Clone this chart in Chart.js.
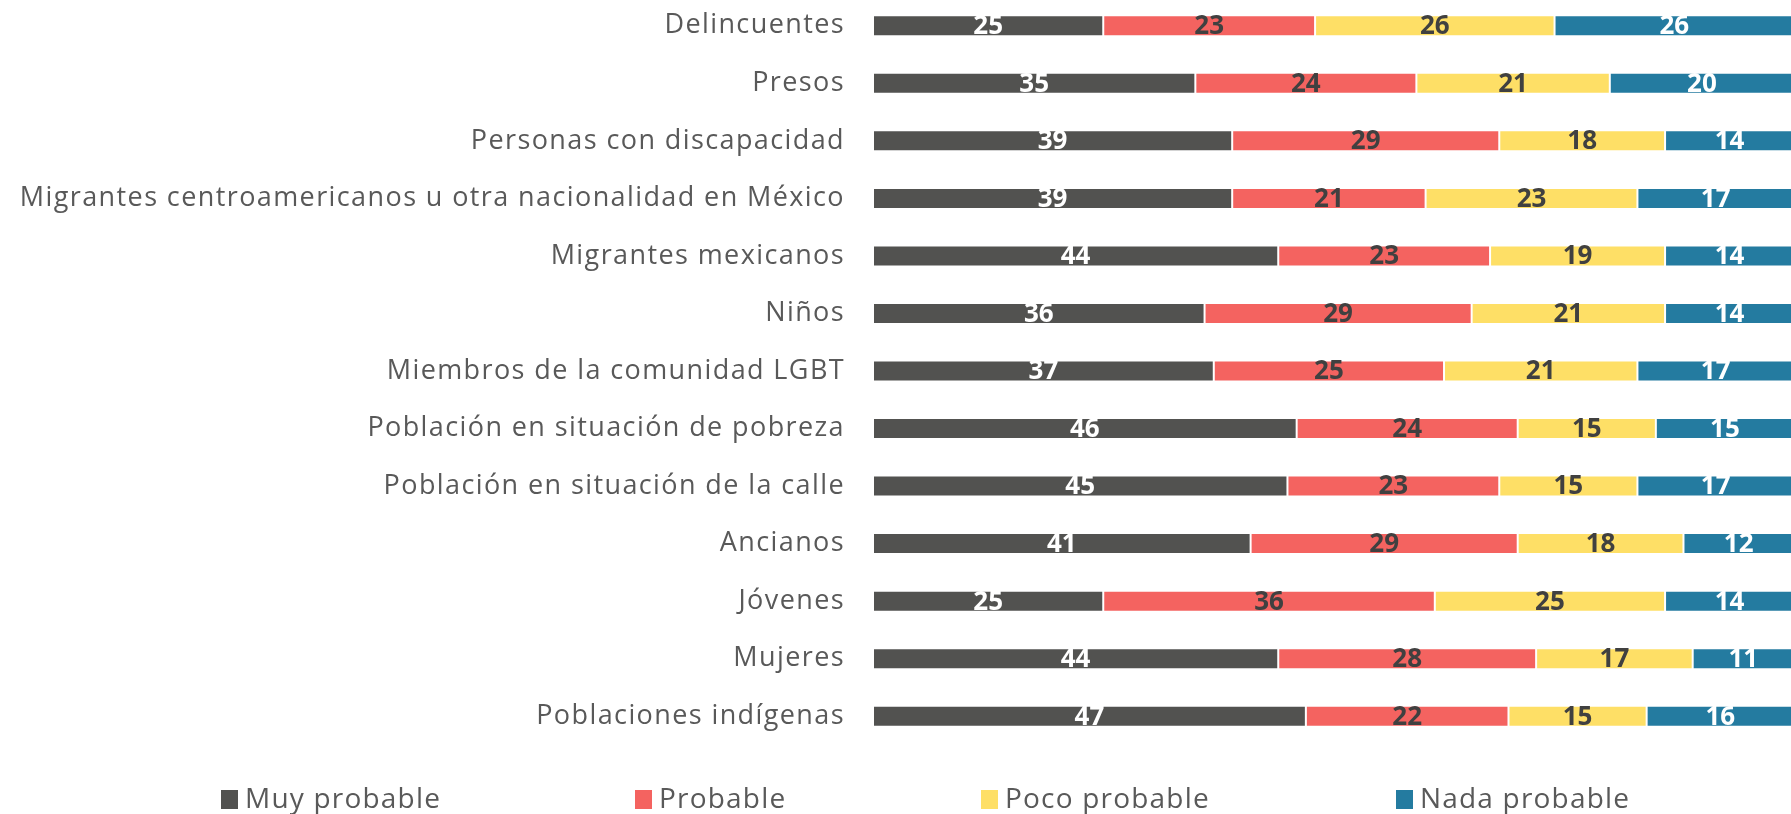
<!DOCTYPE html>
<html>
<head>
<meta charset="utf-8">
<script src="https://cdn.jsdelivr.net/npm/chart.js@4/dist/chart.umd.min.js"></script>
<style>
  html, body { margin: 0; padding: 0; background: #ffffff; overflow: hidden; width: 1791px; height: 814px; }
  #c { position: absolute; left: 0; top: -3px; }
  #legend { position: absolute; left: 0; top: 0; width: 1791px; height: 814px; pointer-events: none; }
  .item { position: absolute; top: 779px; height: 36px; display: flex; align-items: center; font-family: "Open Sans", sans-serif; font-size: 28px; letter-spacing: 1.2px; color: #595959; white-space: nowrap; }
  .box { width: 17px; height: 19px; margin-right: 7px; margin-top: 4px; }
</style>
</head>
<body>
<canvas id="c" width="1794" height="748"></canvas>
<div id="legend"></div>
<script>
const categories = [
  "Delincuentes",
  "Presos",
  "Personas con discapacidad",
  "Migrantes centroamericanos u otra nacionalidad en México",
  "Migrantes mexicanos",
  "Niños",
  "Miembros de la comunidad LGBT",
  "Población en situación de pobreza",
  "Población en situación de la calle",
  "Ancianos",
  "Jóvenes",
  "Mujeres",
  "Poblaciones indígenas"
];
const seriesNames = ["Muy probable", "Probable", "Poco probable", "Nada probable"];
const muyProbable  = [25, 35, 39, 39, 44, 36, 37, 46, 45, 41, 25, 44, 47];
const probable     = [23, 24, 29, 21, 23, 29, 25, 24, 23, 29, 36, 28, 22];
const pocoProbable = [26, 21, 18, 23, 19, 21, 21, 15, 15, 18, 25, 17, 15];
const nadaProbable = [26, 20, 14, 17, 14, 14, 17, 15, 17, 12, 14, 11, 16];

const colors = ["#525250", "#F46360", "#FEDF66", "#247BA0"];
const labelColors = ["#ffffff", "#404040", "#404040", "#ffffff"];
const seriesValues = [muyProbable, probable, pocoProbable, nadaProbable];

const datasets = seriesNames.map((name, i) => ({
  label: name,
  data: seriesValues[i],
  backgroundColor: colors[i],
  borderColor: "rgba(255,255,255,0.35)",
  borderWidth: 1,
  borderSkipped: false,
  barPercentage: 0.365,
  categoryPercentage: 1.0
}));

const spacing = {
  id: "spacing",
  beforeDraw(chart) { chart.ctx.letterSpacing = "1.4px"; },
  beforeDatasetsDraw(chart) { chart.ctx.letterSpacing = "0px"; }
};

const segmentLabels = {
  id: "segmentLabels",
  afterDatasetsDraw(chart) {
    const ctx = chart.ctx;
    ctx.save();
    ctx.letterSpacing = "0px";
    ctx.font = "bold 26px 'Open Sans', sans-serif";
    ctx.textAlign = "center";
    ctx.textBaseline = "middle";
    chart.data.datasets.forEach((ds, di) => {
      const meta = chart.getDatasetMeta(di);
      meta.data.forEach((el, idx) => {
        const p = el.getProps(["x", "base", "y"], true);
        ctx.fillStyle = labelColors[di];
        ctx.fillText(String(ds.data[idx]), (p.x + p.base) / 2, p.y + 1);
      });
    });
    ctx.restore();
  }
};

new Chart(document.getElementById("c"), {
  type: "bar",
  data: { labels: categories, datasets },
  options: {
    indexAxis: "y",
    responsive: false,
    animation: false,
    layout: { padding: 0 },
    plugins: { legend: { display: false }, tooltip: { enabled: false } },
    scales: {
      x: { stacked: true, min: 0, max: 100, display: false },
      y: {
        stacked: true,
        grid: { display: false, drawTicks: false },
        border: { display: false },
        ticks: {
          padding: 28,
          color: "#595959",
          font: { family: "'Open Sans', sans-serif", size: 27 }
        },
        afterFit(scale) {
          scale.width = 873;
          scale.paddingTop = 0;
          scale.paddingBottom = 0;
        }
      }
    }
  },
  plugins: [spacing, segmentLabels]
});

const legendLefts = [221, 635, 981, 1396];
const lg = document.getElementById("legend");
seriesNames.forEach((name, i) => {
  const it = document.createElement("div");
  it.className = "item";
  it.style.left = legendLefts[i] + "px";
  const b = document.createElement("span");
  b.className = "box";
  b.style.background = colors[i];
  const t = document.createElement("span");
  t.textContent = name;
  it.appendChild(b);
  it.appendChild(t);
  lg.appendChild(it);
});
</script>
</body>
</html>
